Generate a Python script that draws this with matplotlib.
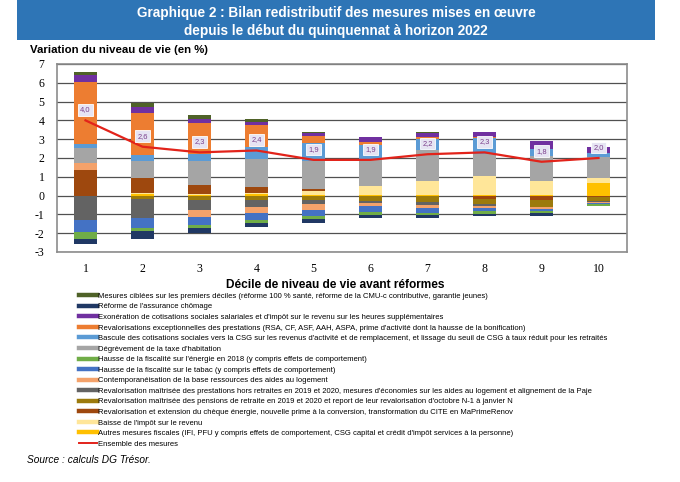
import matplotlib
matplotlib.use('Agg')
import matplotlib.pyplot as plt
from matplotlib.lines import Line2D
from matplotlib.patches import Rectangle
import numpy as np

plt.rcParams['axes.unicode_minus'] = False

# ---------------- data ----------------
deciles = ['1', '2', '3', '4', '5', '6', '7', '8', '9', '10']

mesures_ciblees        = [0.17, 0.18, 0.21, 0.12, 0.05, 0.03, 0.03, 0.00, 0.00, 0.00]
assurance_chomage      = [-0.27, -0.44, -0.29, -0.22, -0.20, -0.18, -0.12, -0.12, -0.14, -0.02]
exoneration            = [0.41, 0.32, 0.23, 0.21, 0.18, 0.27, 0.24, 0.25, 0.41, 0.27]
revalo_exceptionnelles = [3.30, 2.24, 1.64, 1.15, 0.35, 0.14, 0.08, 0.10, 0.00, 0.00]
bascule_csg            = [0.18, 0.32, 0.39, 0.64, 0.97, 0.75, 0.62, 0.84, 0.35, 0.26]
degrevement_th         = [0.83, 0.92, 1.29, 1.50, 1.50, 1.41, 1.62, 1.18, 1.33, 1.09]
fiscalite_energie      = [-0.35, -0.18, -0.17, -0.15, -0.17, -0.15, -0.14, -0.14, -0.12, -0.06]
fiscalite_tabac        = [-0.65, -0.53, -0.41, -0.38, -0.32, -0.30, -0.26, -0.17, -0.12, -0.07]
contemporaneisation    = [0.37, 0.00, -0.35, -0.32, -0.34, -0.15, -0.17, -0.09, -0.09, -0.06]
revalo_prestations     = [-1.31, -1.00, -0.53, -0.39, -0.23, -0.12, -0.14, -0.09, -0.03, -0.04]
revalo_pensions        = [0.00, -0.18, -0.25, -0.21, -0.21, -0.30, -0.34, -0.27, -0.38, -0.22]
cheque_energie         = [1.34, 0.80, 0.45, 0.28, 0.08, 0.00, 0.03, -0.20, -0.21, -0.08]
baisse_ir              = [0.00, 0.04, 0.05, 0.10, 0.22, 0.50, 0.72, 0.98, 0.76, 0.27]
autres_fiscales        = [0.00, 0.08, 0.05, 0.06, 0.05, 0.03, 0.04, 0.04, 0.03, 0.67]
ensemble               = [4.0, 2.6, 2.3, 2.4, 1.9, 1.9, 2.2, 2.3, 1.8, 2.0]

labels = [
    "Mesures ciblées sur les premiers déciles (réforme 100 % santé, réforme de la CMU-c contributive, garantie jeunes)",
    "Réforme de l'assurance chômage",
    "Exonération de cotisations sociales salariales et d'impôt sur le revenu sur les heures supplémentaires",
    "Revalorisations exceptionnelles des prestations (RSA, CF, ASF, AAH, ASPA, prime d'activité dont la hausse de la bonification)",
    "Bascule des cotisations sociales vers la CSG sur les revenus d'activité et de remplacement, et lissage du seuil de CSG à taux réduit pour les retraités",
    "Dégrèvement de la taxe d'habitation",
    "Hausse de la fiscalité sur l'énergie en 2018 (y compris effets de comportement)",
    "Hausse de la fiscalité sur le tabac (y compris effets de comportement)",
    "Contemporanéisation de la base ressources des aides au logement",
    "Revalorisation maîtrisée des prestations hors retraites en 2019 et 2020, mesures d'économies sur les aides au logement et alignement de la Paje",
    "Revalorisation maîtrisée des pensions de retraite en 2019 et 2020 et report de leur revalorisation d'octobre N-1 à janvier N",
    "Revalorisation et extension du chèque énergie, nouvelle prime à la conversion, transformation du CITE en MaPrimeRenov",
    "Baisse de l'impôt sur le revenu",
    "Autres mesures fiscales (IFI, PFU y compris effets de comportement, CSG capital et crédit d'impôt services à la personne)",
]
label_ensemble = "Ensemble des mesures"

series = [mesures_ciblees, assurance_chomage, exoneration, revalo_exceptionnelles,
          bascule_csg, degrevement_th, fiscalite_energie, fiscalite_tabac,
          contemporaneisation, revalo_prestations, revalo_pensions, cheque_energie,
          baisse_ir, autres_fiscales]

colors = ['#4F6228', '#203864', '#7030A0', '#ED7D31', '#5B9BD5', '#A5A5A5',
          '#70AD47', '#4472C4', '#F4A26B', '#636363', '#9C7A0C', '#9E480E',
          '#FFE699', '#FFC000']
red = '#E2231A'

# ---------------- figure ----------------
fig = plt.figure(figsize=(6.8, 4.82), dpi=100)

# title banner
fig.patches.append(Rectangle((17/680, 1-40/482), (655-17)/680, 40/482,
                             transform=fig.transFigure, facecolor='#2E75B6',
                             edgecolor='none', zorder=0))
fig.text(336/680, 1-13/482, "Graphique 2 : Bilan redistributif des mesures mises en œuvre",
         ha='center', va='center', color='white', fontsize=9.8, fontweight='bold',
         family=['Liberation Sans', 'DejaVu Sans'])
fig.text(336/680, 1-30.5/482, "depuis le début du quinquennat à horizon 2022",
         ha='center', va='center', color='white', fontsize=9.8, fontweight='bold',
         family=['Liberation Sans', 'DejaVu Sans'])

fig.text(30/680, 1-50/482, "Variation du niveau de vie (en %)", ha='left', va='center',
         fontsize=8.2, fontweight='bold', family=['Liberation Sans Narrow', 'Liberation Sans'])

ax = fig.add_axes([57/680, 1-252/482, (627-57)/680, (252-64)/482])

x = np.arange(len(deciles))
pos_bottom = np.zeros(len(deciles))
neg_bottom = np.zeros(len(deciles))
for i in range(len(series)-1, -1, -1):
    v = np.array(series[i], dtype=float)
    pos = np.where(v > 0, v, 0.0)
    neg = np.where(v < 0, v, 0.0)
    ax.bar(x, pos, bottom=pos_bottom, width=0.39, color=colors[i], zorder=2, linewidth=0)
    ax.bar(x, neg, bottom=neg_bottom, width=0.39, color=colors[i], zorder=2, linewidth=0)
    pos_bottom += pos
    neg_bottom += neg

ax.plot(x, ensemble, color=red, lw=1.6, zorder=3)
for xi, val in zip(x, ensemble):
    ax.annotate(f"{val:.1f}".replace('.', ','), (xi, val), xytext=(0, 7.6),
                textcoords='offset points', ha='center', va='center',
                fontsize=5.4, color='#7B3F8C', family=['Liberation Sans', 'DejaVu Sans'],
                bbox=dict(boxstyle='square,pad=0.3', fc='#E6E4F3', ec='white', lw=0.6),
                zorder=4)

ax.set_xlim(-0.5, len(deciles)-0.5)
ax.set_ylim(-3, 7)
ax.set_yticks(range(-3, 8))
ax.set_xticks(x)
ax.set_xticklabels(deciles)
ax.yaxis.grid(True, color='#505050', lw=0.9, zorder=0)
ax.set_axisbelow(True)
ax.tick_params(length=0, labelsize=8.5, pad=9)
ax.tick_params(axis='x', pad=8)
for lab in ax.get_xticklabels() + ax.get_yticklabels():
    lab.set_family(['Liberation Serif', 'DejaVu Serif'])
for s in ax.spines.values():
    s.set_color('#8C8C8C')
    s.set_linewidth(1.2)

fig.text(335/680, 1-285/482, "Décile de niveau de vie avant réformes", ha='center', va='center',
         fontsize=8.6, fontweight='bold', family=['Liberation Sans Narrow', 'Liberation Sans'])

handles = [Line2D([0], [0], color=c, lw=3.2) for c in colors]
handles.append(Line2D([0], [0], color=red, lw=1.4))
fig.legend(handles, labels + [label_ensemble], loc='upper left',
           bbox_to_anchor=(79/680, 1-292.5/482), frameon=False,
           handlelength=2.3, handletextpad=0.25, labelspacing=0.42,
           borderaxespad=0, borderpad=0,
           prop={'family': ['Liberation Sans', 'DejaVu Sans'], 'size': 5.5})

fig.text(27/680, 1-460/482, "Source : calculs DG Trésor.", ha='left', va='center',
         fontsize=7.3, style='italic', family=['Liberation Sans', 'DejaVu Sans'])

fig.savefig('out.png', dpi=100)
